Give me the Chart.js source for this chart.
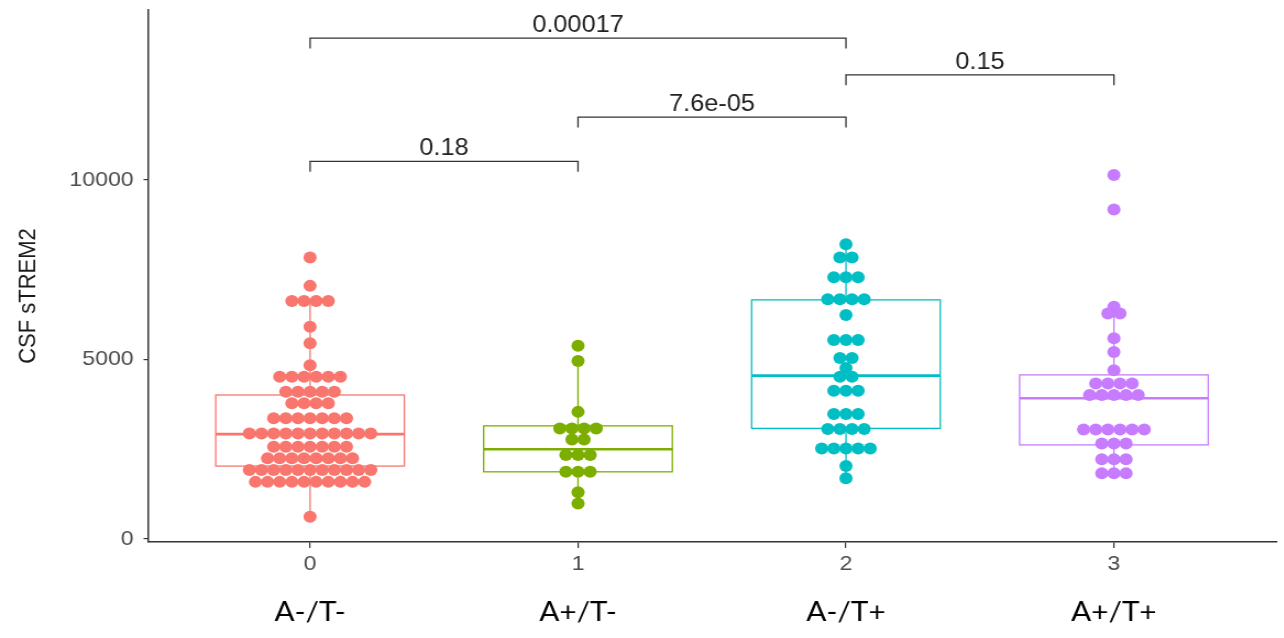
<!DOCTYPE html>
<html>
<head>
<meta charset="utf-8">
<script src="https://cdn.jsdelivr.net/npm/chart.js@4.4.1/dist/chart.umd.min.js"></script>
<style>
  html, body { margin: 0; padding: 0; background: #ffffff; overflow: hidden; }
  /* the figure is laid out narrow and widened horizontally */
  #wrap { width: 1167px; height: 638px; transform: scaleX(1.1); transform-origin: 0 0; }
  canvas { display: block; }
</style>
</head>
<body>
<div id="wrap"><canvas id="chart" width="1167" height="638"></canvas></div>
<script>
// ---- data ----
const categories = ['0', '1', '2', '3'];
const groupNames = ['A-/T-', 'A+/T-', 'A-/T+', 'A+/T+'];
const yTicks = [0, 5000, 10000];
const yTitle = 'CSF sTREM2';

// CSF sTREM2 per subject (dot-plot bin values)
const strem2_AnegTneg = [
  7840, 7050,
  6630, 6630, 6630, 6630,
  5910, 5450, 4840,
  4520, 4520, 4520, 4520, 4520, 4520,
  4100, 4100, 4100, 4100, 4100,
  3780, 3780, 3780, 3780,
  3360, 3360, 3360, 3360, 3360, 3360, 3360,
  2940, 2940, 2940, 2940, 2940, 2940, 2940, 2940, 2940, 2940, 2940,
  2570, 2570, 2570, 2570, 2570, 2570, 2570,
  2250, 2250, 2250, 2250, 2250, 2250, 2250, 2250,
  1920, 1920, 1920, 1920, 1920, 1920, 1920, 1920, 1920, 1920, 1920,
  1590, 1590, 1590, 1590, 1590, 1590, 1590, 1590, 1590, 1590,
  620
];
const strem2_AposTneg = [
  5380, 4960, 3540,
  3080, 3080, 3080, 3080,
  2770, 2770,
  2340, 2340, 2340,
  1870, 1870, 1870,
  1300, 990
];
const strem2_AnegTpos = [
  8210,
  7840, 7840,
  7290, 7290, 7290,
  6680, 6680, 6680, 6680,
  6240,
  5540, 5540, 5540,
  5040, 5040,
  4760,
  4520, 4520,
  4130, 4130, 4130,
  3480, 3480, 3480,
  3060, 3060, 3060, 3060,
  2520, 2520, 2520, 2520, 2520,
  2030, 1690
];
const strem2_AposTpos = [
  10140, 9180,
  6470, 6280, 6280,
  5590, 5210, 4700,
  4330, 4330, 4330, 4330,
  4010, 4010, 4010, 4010, 4010,
  3050, 3050, 3050, 3050, 3050, 3050,
  2660, 2660, 2660,
  2220, 2220, 2220,
  1830, 1830, 1830
];

// box summaries per group
const boxQ1 = [2030, 1870, 3080, 2620];
const boxMedian = [2920, 2500, 4550, 3920];
const boxQ3 = [4010, 3150, 6660, 4570];
const whiskerLow = [620, 990, 1690, 1830];
const whiskerHigh = [6630, 4960, 8210, 6470];

// pairwise comparisons
const compareFrom = [0, 1, 0, 2];
const compareTo = [1, 2, 2, 3];
const pValues = ['0.18', '7.6e-05', '0.00017', '0.15'];

// ---- layout & style ----
const groupValues = [strem2_AnegTneg, strem2_AposTneg, strem2_AnegTpos, strem2_AposTpos];
const colors = ['#F8766D', '#7CAE00', '#00BFC4', '#C77CFF'];
const bracketLevel = [10520, 11750, 13950, 12930];
const bracketTip = 290;
const boxHalfWidth = 0.352;
const dotStep = 0.0453;
const FONT = "'Liberation Sans', Arial, sans-serif";

// centred stacking of equal values side by side
function stackGroup(values, center) {
  const counts = new Map();
  values.forEach(v => counts.set(v, (counts.get(v) || 0) + 1));
  const seen = new Map();
  return values.map(v => {
    const n = counts.get(v);
    const i = seen.get(v) || 0;
    seen.set(v, i + 1);
    return { x: center + (i - (n - 1) / 2) * dotStep, y: v };
  });
}

const datasets = groupValues.map((vals, g) => ({
  label: groupNames[g],
  data: stackGroup(vals, g),
  backgroundColor: colors[g],
  borderColor: colors[g],
  borderWidth: 0,
  pointRadius: 6,
  pointHoverRadius: 6
}));

// box, median and whiskers behind the dots
const boxPlugin = {
  id: 'boxWhisker',
  beforeDatasetsDraw(chart) {
    const { ctx, scales: { x, y } } = chart;
    ctx.save();
    for (let g = 0; g < categories.length; g++) {
      const cx = x.getPixelForValue(g);
      const left = x.getPixelForValue(g - boxHalfWidth);
      const right = x.getPixelForValue(g + boxHalfWidth);
      const yq1 = y.getPixelForValue(boxQ1[g]);
      const yq3 = y.getPixelForValue(boxQ3[g]);
      const ymed = y.getPixelForValue(boxMedian[g]);
      const ylo = y.getPixelForValue(whiskerLow[g]);
      const yhi = y.getPixelForValue(whiskerHigh[g]);
      ctx.strokeStyle = colors[g];
      ctx.lineWidth = 1.3;
      ctx.beginPath();
      ctx.moveTo(cx, yq3); ctx.lineTo(cx, yhi);
      ctx.moveTo(cx, yq1); ctx.lineTo(cx, ylo);
      ctx.stroke();
      ctx.strokeRect(left, yq3, right - left, yq1 - yq3);
      ctx.lineWidth = 2.6;
      ctx.beginPath();
      ctx.moveTo(left, ymed); ctx.lineTo(right, ymed);
      ctx.stroke();
    }
    ctx.restore();
  }
};

// significance brackets, axis title and group names
const annotatePlugin = {
  id: 'annotate',
  afterDraw(chart) {
    const { ctx, scales: { x, y } } = chart;
    ctx.save();
    ctx.strokeStyle = '#333333';
    ctx.lineWidth = 1.3;
    ctx.fillStyle = '#222222';
    ctx.font = '23px ' + FONT;
    ctx.textAlign = 'center';
    ctx.textBaseline = 'alphabetic';
    for (let k = 0; k < pValues.length; k++) {
      const x1 = x.getPixelForValue(compareFrom[k]);
      const x2 = x.getPixelForValue(compareTo[k]);
      const yl = y.getPixelForValue(bracketLevel[k]);
      const yt = y.getPixelForValue(bracketLevel[k] - bracketTip);
      ctx.beginPath();
      ctx.moveTo(x1, yt); ctx.lineTo(x1, yl); ctx.lineTo(x2, yl); ctx.lineTo(x2, yt);
      ctx.stroke();
      ctx.fillText(pValues[k], (x1 + x2) / 2, yl - 6);
    }

    // y-axis title
    ctx.save();
    ctx.translate(26, 296);
    ctx.rotate(-Math.PI / 2);
    ctx.fillStyle = '#1a1a1a';
    ctx.font = '22px ' + FONT;
    ctx.textBaseline = 'middle';
    ctx.fillText(yTitle, 0, 0);
    ctx.restore();

    ctx.fillStyle = '#000000';
    ctx.font = "27px Lato, 'Open Sans', sans-serif";
    ctx.textBaseline = 'middle';
    for (let g = 0; g < groupNames.length; g++) {
      ctx.fillText(groupNames[g], x.getPixelForValue(g), 612);
    }
    ctx.restore();
  }
};

new Chart(document.getElementById('chart').getContext('2d'), {
  type: 'scatter',
  data: { datasets },
  options: {
    responsive: false,
    animation: false,
    devicePixelRatio: 1,
    layout: { padding: { top: 10, left: 0, right: 0, bottom: 0 } },
    plugins: { legend: { display: false }, tooltip: { enabled: false } },
    scales: {
      x: {
        type: 'linear',
        min: -0.605,
        max: 3.609,
        afterBuildTicks: s => { s.ticks = categories.map((c, i) => ({ value: i })); },
        afterFit: s => { s.height = 96; s.paddingLeft = 0; s.paddingRight = 0; },
        ticks: {
          callback: v => categories[v],
          color: '#4D4D4D',
          font: { family: FONT, size: 21 },
          padding: 4,
          maxRotation: 0,
          autoSkip: false
        },
        grid: { drawOnChartArea: false, drawTicks: true, tickLength: 6, color: '#333333', lineWidth: 1.2 },
        border: { display: true, color: '#333333', width: 1.5 }
      },
      y: {
        type: 'linear',
        min: -85,
        max: 14735,
        afterBuildTicks: s => { s.ticks = yTicks.map(v => ({ value: v })); },
        afterFit: s => { s.width = 134.5; s.paddingTop = 0; s.paddingBottom = 0; },
        ticks: {
          callback: v => String(v),
          color: '#4D4D4D',
          font: { family: FONT, size: 21 },
          padding: 9
        },
        grid: { drawOnChartArea: false, drawTicks: true, tickLength: 4, color: '#333333', lineWidth: 1.2 },
        border: { display: true, color: '#333333', width: 1.5 }
      }
    }
  },
  plugins: [boxPlugin, annotatePlugin]
});
</script>
</body>
</html>
